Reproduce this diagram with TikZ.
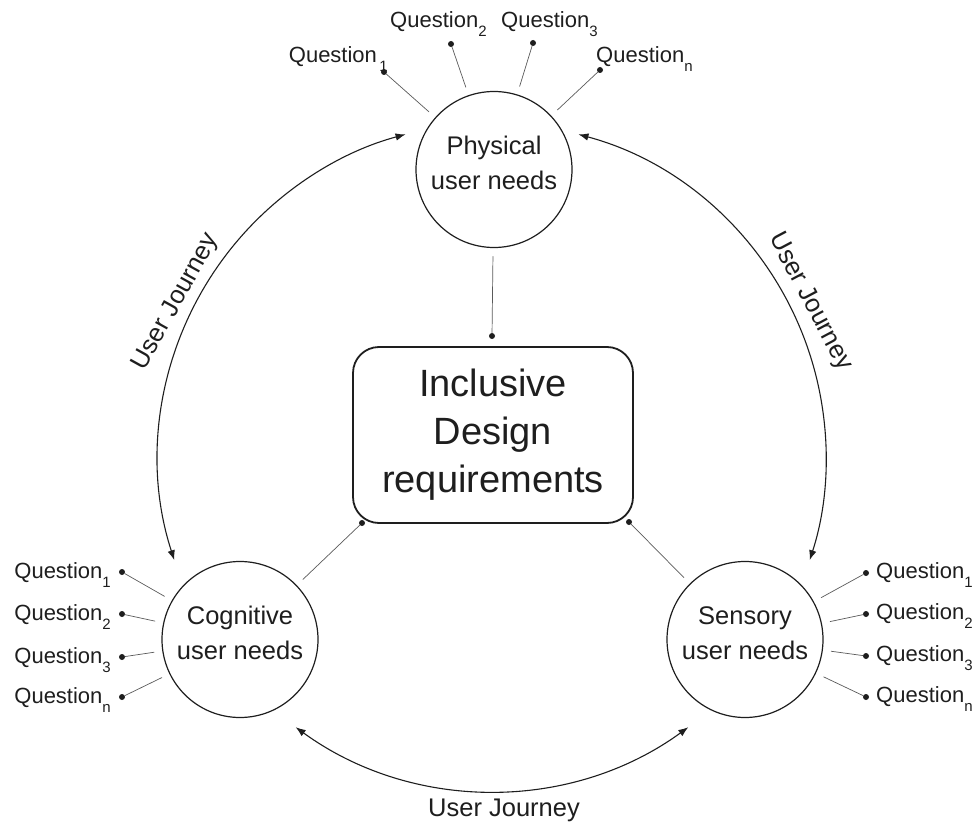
\documentclass[tikz,border=0pt]{standalone}
\usepackage{fontspec}
\setmainfont{Liberation Sans}
\usetikzlibrary{arrows.meta}

\definecolor{ink}{HTML}{1E1E1E}
\definecolor{wiregray}{HTML}{5A5A5A}

% lowered index after "Question"
\newcommand{\qsub}[1]{\raisebox{-9pt}{\fontsize{15}{15}\selectfont #1}}

\begin{document}
\begin{tikzpicture}[
  x=1pt, y=-1pt,
  line join=round, line cap=round,
  need/.style={draw=ink, line width=1.2pt, circle, minimum size=156pt,
    inner sep=0pt, outer sep=0pt, align=center, text=ink,
    font=\fontsize{25.5}{35}\selectfont,
    execute at end node={\rule[-12.5pt]{0pt}{0pt}}},
  core/.style={draw=ink, line width=1.8pt, rounded corners=26pt,
    minimum width=280pt, minimum height=176pt, inner sep=0pt, outer sep=0pt,
    align=center, text=ink, font=\fontsize{38}{48}\selectfont},
  dot/.style={circle, fill=ink, inner sep=0pt, minimum size=6pt},
  wire/.style={draw=wiregray, line width=0.7pt, shorten >=9pt},
  journey/.style={draw=ink, line width=1.1pt,
    {Latex[length=10pt,width=7.5pt]}-{Latex[length=10pt,width=7.5pt]}},
  qtext/.style={text=ink, inner sep=0pt, font=\fontsize{22}{26}\selectfont},
  jtext/.style={text=ink, inner sep=0pt, font=\fontsize{25.5}{30}\selectfont},
]
\useasboundingbox (0,0) rectangle (972,824);

% the three groups of needs and the box in the middle
\node[need] (phys) at (494,169.5) {Physical\\user needs};
\node[need] (cog)  at (240,639.5) {Cognitive\\user needs};
\node[need] (sens) at (745,639.5) {Sensory\\user needs};
\node[core] (core) at (493,435) {Inclusive\\Design\\requirements};

% links from the needs to the box
\node[dot] (ctop)   at (492,336) {};
\node[dot] (cleft)  at (362,523) {};
\node[dot] (cright) at (629,522) {};
\draw[wire] (ctop) -- (phys);
\draw[wire] (cleft) -- (cog);
\draw[wire] (cright) -- (sens);

% questions round each circle
\foreach \n/\px/\py/\lx/\ly/\at/\s in {
  1/384/72/388/63/base east/{\,1},
  2/451/44/390/28/base west/2,
  3/533/43/501/28/base west/3,
  n/600/70/596/63/base west/n} {
  \node[dot] (pq\n) at (\px,\py) {};
  \draw[wire] (pq\n) -- (phys);
  \node[qtext, anchor=\at] (pql\n) at (\lx,\ly) {Question\qsub{\s}};
}
\foreach \n/\py in {1/572, 2/614, 3/657, n/697} {
  \node[dot] (cq\n) at (122,\py) {};
  \draw[wire] (cq\n) -- (cog);
  \node[qtext, anchor=base east] (cql\n) at ([shift={(-11,6)}]cq\n.center) {Question\qsub{\n}};
}
\foreach \n/\py in {1/573, 2/614, 3/656, n/697} {
  \node[dot] (sq\n) at (866,\py) {};
  \draw[wire] (sq\n) -- (sens);
  \node[qtext, anchor=base west] (sql\n) at ([shift={(10,5)}]sq\n.center) {Question\qsub{\n}};
}

% the user journey runs round the outside
\coordinate (hub) at (492,457);
\coordinate (jl) at ([shift={(-198:334)}]hub);
\coordinate (jr) at ([shift={(-75:334)}]hub);
\coordinate (jb) at ([shift={(-234:334)}]hub);
\draw[journey] (jl) arc[start angle=-198, end angle=-105, radius=334];
\draw[journey] (jr) arc[start angle=-75, end angle=18, radius=334];
\draw[journey] (jb) arc[start angle=-234, end angle=-306, radius=334];

\node[jtext, rotate=61]  (jlabl) at (176,302) {User Journey};
\node[jtext, rotate=-62] (jlabr) at (810,302) {User Journey};
\node[jtext, anchor=base] (jlabb) at (504,816) {User Journey};

\end{tikzpicture}
\end{document}
